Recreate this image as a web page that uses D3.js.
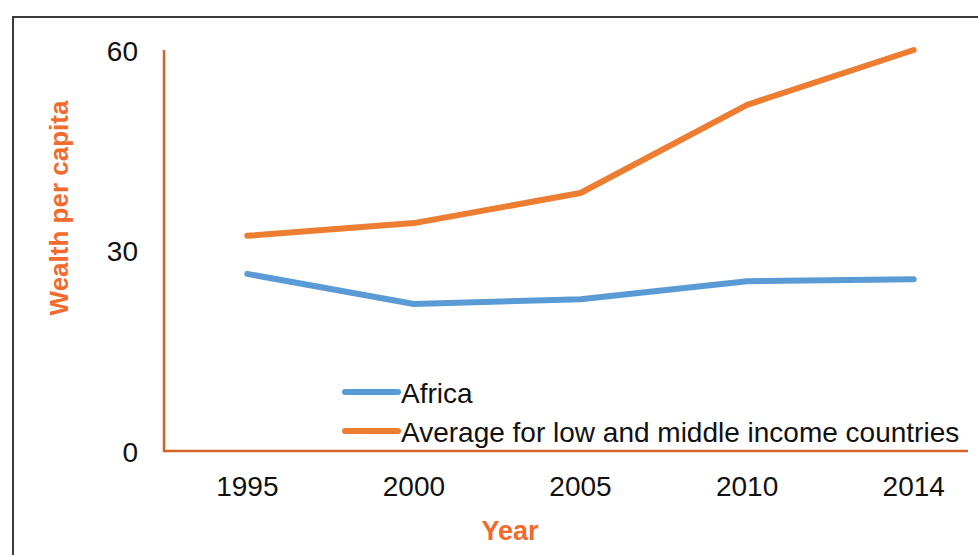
<!DOCTYPE html>
<html>
<head>
<meta charset="utf-8">
<script src="https://cdn.jsdelivr.net/npm/d3@7"></script>
<style>
  html, body { margin: 0; padding: 0; background: #fff; }
  svg { display: block; font-family: "Liberation Sans", Arial, sans-serif; }
</style>
</head>
<body>
<svg id="chart" width="978" height="555"></svg>
<script>
// Wealth per capita by year
const years = ["1995", "2000", "2005", "2010", "2014"];
const africa = [26.5, 22.0, 22.7, 25.4, 25.7];
const lowMiddle = [32.2, 34.1, 38.6, 51.8, 60.0];
const yTicks = [0, 30, 60];
const seriesNames = ["Africa", "Average for low and middle income countries"];
const seriesColors = ["#5b9bd5", "#ed7d31"];

const svg = d3.select("#chart");

// outer frame (clipped at right and bottom)
svg.append("path")
  .attr("d", "M13,555 V17 H978")
  .attr("fill", "none")
  .attr("stroke", "#3a3a3a")
  .attr("stroke-width", 2);

const x = d3.scaleBand().domain(years).range([164, 997]);
const y = d3.scaleLinear().domain([0, 60]).range([451, 50]);

const axisColor = "#d2642a";
const titleColor = "#f26a2c";
const labelSize = 28;

// x axis
const xAxis = svg.append("g").attr("transform", `translate(0,${y(0)})`)
  .call(d3.axisBottom(x).tickSize(0));
xAxis.select(".domain").remove();
xAxis.selectAll("text")
  .attr("y", 45).attr("dy", 0)
  .attr("font-size", labelSize).attr("fill", "#111")
  .attr("font-family", "Liberation Sans, Arial, sans-serif");
svg.append("line")
  .attr("x1", 164).attr("x2", 968)
  .attr("y1", y(0)).attr("y2", y(0))
  .attr("stroke", axisColor).attr("stroke-width", 2.5);

// y axis
const yAxis = svg.append("g").attr("transform", "translate(164,0)")
  .call(d3.axisLeft(y).tickValues(yTicks).tickSize(0).tickPadding(26));
yAxis.select(".domain").remove();
yAxis.selectAll("text")
  .attr("dy", 10)
  .attr("font-size", labelSize).attr("fill", "#111")
  .attr("font-family", "Liberation Sans, Arial, sans-serif");
svg.append("line")
  .attr("x1", 164).attr("x2", 164)
  .attr("y1", y(60)).attr("y2", y(0) + 1.25)
  .attr("stroke", axisColor).attr("stroke-width", 2.5);

// axis titles
svg.append("text")
  .attr("transform", "translate(68,208) rotate(-90)")
  .attr("text-anchor", "middle")
  .attr("font-size", 26).attr("font-weight", "bold")
  .attr("fill", titleColor)
  .text("Wealth per capita");
svg.append("text")
  .attr("x", 510).attr("y", 540)
  .attr("text-anchor", "middle")
  .attr("font-size", 27).attr("font-weight", "bold")
  .attr("fill", titleColor)
  .text("Year");

// lines
const line = d3.line()
  .x((d, i) => x(years[i]) + x.bandwidth() / 2)
  .y(d => y(d));

[africa, lowMiddle].forEach((vals, i) => {
  svg.append("path")
    .datum(vals)
    .attr("d", line)
    .attr("fill", "none")
    .attr("stroke", seriesColors[i])
    .attr("stroke-width", 6)
    .attr("stroke-linecap", "round")
    .attr("stroke-linejoin", "round");
});

// legend
const legend = svg.append("g");
seriesNames.forEach((name, i) => {
  const ly = 392 + i * 39;
  legend.append("line")
    .attr("x1", 345).attr("x2", 398)
    .attr("y1", ly).attr("y2", ly)
    .attr("stroke", seriesColors[i])
    .attr("stroke-width", 6)
    .attr("stroke-linecap", "round");
  legend.append("text")
    .attr("x", 401).attr("y", ly + 11)
    .attr("font-size", labelSize).attr("fill", "#111")
    .text(name);
});
</script>
</body>
</html>
